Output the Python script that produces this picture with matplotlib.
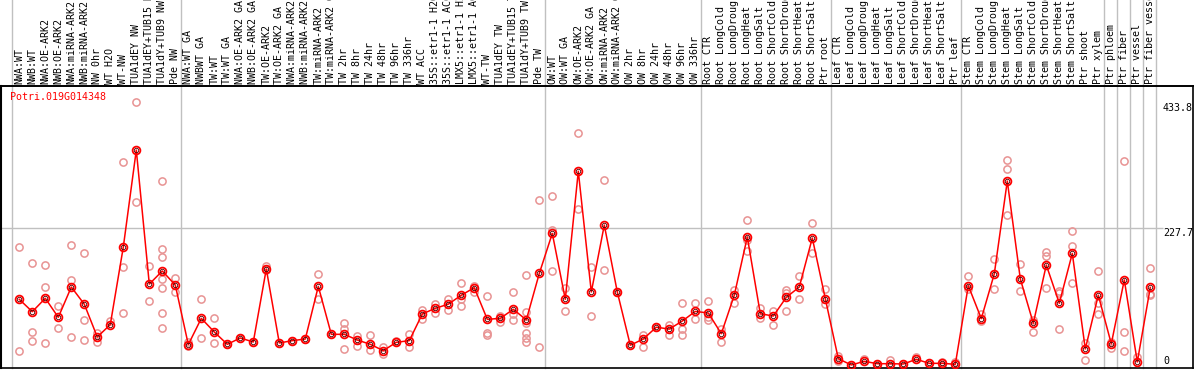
import matplotlib
matplotlib.use("Agg")
import matplotlib.pyplot as plt
import matplotlib.transforms as mtransforms

gene = "Potri.019G014348"

samples = [
    "NWA:WT", "NWB:WT", "NWA:OE-ARK2", "NWB:OE-ARK2", "NWA:miRNA-ARK2",
    "NWB:miRNA-ARK2", "NW 0hr", "WT H2O", "WT-NW", "TUA1dEY NW",
    "TUA1dEY+TUB15 NW", "TUA1dY+TUB9 NW", "Pde NW", "NWA:WT GA", "NWBWT GA",
    "TW:WT", "TW:WT GA", "NWA:OE-ARK2 GA", "NWB:OE-ARK2 GA", "TW:OE-ARK2",
    "TW:OE-ARK2 GA", "NWA:miRNA-ARK2 GA", "NWB:miRNA-ARK2 GA", "TW:miRNA-ARK2",
    "TW:miRNA-ARK2 GA", "TW 2hr", "TW 8hr", "TW 24hr", "TW 48hr", "TW 96hr",
    "TW 336hr", "WT ACC", "35S::etr1-1 H2O", "35S::etr1-1 ACC",
    "LMX5::etr1-1 H2O", "LMX5::etr1-1 ACC", "WT-TW", "TUA1dEY TW",
    "TUA1dEY+TUB15 TW", "TUA1dY+TUB9 TW", "Pde TW", "OW:WT", "OW:WT GA",
    "OW:OE-ARK2", "OW:OE-ARK2 GA", "OW:miRNA-ARK2", "OW:miRNA-ARK2 GA",
    "OW 2hr", "OW 8hr", "OW 24hr", "OW 48hr", "OW 96hr", "OW 336hr",
    "Root CTR", "Root LongCold", "Root LongDrought", "Root LongHeat",
    "Root LongSalt", "Root ShortCold", "Root ShortDrought", "Root ShortHeat",
    "Root ShortSalt", "Ptr root", "Leaf CTR", "Leaf LongCold",
    "Leaf LongDrought", "Leaf LongHeat", "Leaf LongSalt", "Leaf ShortCold",
    "Leaf ShortDrought", "Leaf ShortHeat", "Leaf ShortSalt", "Ptr leaf",
    "Stem CTR", "Stem LongCold", "Stem LongDrought", "Stem LongHeat",
    "Stem LongSalt", "Stem ShortCold", "Stem ShortDrought", "Stem ShortHeat",
    "Stem ShortSalt", "Ptr shoot", "Ptr xylem", "Ptr phloem", "Ptr fiber",
    "Ptr vessel", "Ptr fiber vessel",
]

means = [
    110.2, 89.9, 111.9, 80.7, 130.4, 102.2, 48.4, 68.8, 195.9, 355.1,
    135.2, 156.7, 133.6, 35.9, 79.0, 56.6, 36.4, 46.8, 40.2, 160.0,
    38.6, 42.4, 45.1, 131.5, 52.8, 52.8, 43.5, 36.4, 26.0, 39.7,
    42.4, 86.2, 95.5, 102.2, 117.0, 129.3, 77.4, 79.0, 93.9, 76.4,
    152.7, 218.4, 110.2, 320.4, 122.2, 232.1, 122.2, 34.9, 45.1, 64.5,
    61.4, 74.6, 90.4, 87.8, 53.8, 117.0, 212.5, 86.6, 82.8, 113.5,
    130.4, 210.8, 111.4, 12.8, 2.5, 8.5, 4.6, 4.6, 4.1, 11.8,
    5.2, 5.2, 3.6, 132.6, 78.5, 152.0, 304.3, 143.8, 70.9, 166.5,
    103.7, 185.6, 28.7, 117.0, 37.2, 142.1, 7.4, 129.8,
]

replicates = [
    [195.9, 25.4], [169.8, 56.1, 41.8], [166.5, 130.4, 38.0], [99.0, 63.4],
    [199.3, 142.6, 48.4], [186.2, 76.4, 43.5], [54.4, 40.7], [74.6],
    [335.5, 163.2, 87.8], [433.8, 269.9], [164.9, 107.3],
    [304.3, 192.7, 180.1, 143.8, 129.0, 87.8, 63.4], [145.4, 122.5],
    [39.7, 33.4], [111.4, 46.2], [79.0, 38.0], [36.4], [46.8], [40.2],
    [165.0, 158.0], [38.6], [42.4], [45.1], [152.0, 111.4], [52.8],
    [71.2, 61.4, 28.7], [50.0, 34.3], [51.4, 27.6], [31.2, 19.7], [41.3],
    [53.8, 31.2], [92.8, 78.5], [103.2, 87.8], [111.4, 92.2],
    [136.3, 111.4, 99.0], [132.6, 122.5], [115.5, 55.6, 51.7], [83.2, 72.3],
    [123.0, 85.5, 76.4], [150.1, 89.9, 70.7, 54.4, 46.2, 39.7], [272.7, 31.2],
    [279.3, 223.8, 156.1], [128.5, 91.1], [382.6, 258.9], [163.2, 82.2],
    [305.2, 158.4], [122.2], [34.9], [51.7, 31.2], [64.5], [68.8, 52.4],
    [104.0, 61.7, 51.7], [104.0, 77.4], [107.3, 81.9, 76.4], [61.4, 40.2],
    [125.6, 104.0], [239.8, 207.6, 188.9], [95.5, 80.1], [91.5, 67.6],
    [125.6, 120.0, 91.5], [149.2, 111.4], [234.9, 185.6], [127.5, 102.2],
    [17.7, 9.6], [2.5], [13.0], [4.6], [11.0], [4.1], [15.0], [5.2],
    [2.0, 8.0], [8.0], [148.1, 127.5], [86.6, 74.0], [175.6, 127.5],
    [338.3, 324.6, 247.9], [167.6, 123.1], [76.4, 56.6],
    [187.4, 181.9, 129.0], [124.3, 120.0, 62.2], [221.5, 196.9, 136.3],
    [38.0, 11.0], [157.3, 104.0, 86.0], [29.7, 40.7], [336.8, 56.6, 26.2],
    [16.0], [161.5, 117.8, 119.0],
]

# groups end after these samples (vertical separators)
group_ends = [-1, 12, 40, 52, 62, 72, 83, 84, 85, 86, 87]
ytick_vals = [433.8, 227.7, 0]
ytick_text = ["433.8", "227.7", "0"]

W, H = 1194, 370
fig = plt.figure(figsize=(W / 100, H / 100), dpi=100)
# plot box in pixels: x 1..1193, y 86..368 (from top)
ax = fig.add_axes([1 / W, 2 / H, 1192 / W, 282 / H])
ax.set_xlim((1 - 19.3) / 13, (1193 - 19.3) / 13)
ax.set_ylim(-2.46, 460.2)
ax.set_xticks([])
ax.set_yticks([])
for s in ax.spines.values():
    s.set_color("black")
    s.set_linewidth(1.2)
ax.spines["left"].set_linewidth(1.5)

mono = "DejaVu Sans Mono"
fs = 7.2
xs = list(range(len(samples)))
top_ax = 368 / 282  # full figure height in axes units

for g in group_ends:
    ax.axvline(g + 0.41, ymin=0, ymax=top_ax, color="#c0c0c0", lw=1.0,
               clip_on=False, zorder=1)

grid_end = (1163 - 19.3) / 13
ax.hlines(227.7, ax.get_xlim()[0], grid_end, color="#c0c0c0", lw=1.0,
          zorder=1)
ax.axhline(460.2, xmin=-0.01, xmax=1.0, color="black", lw=1.2, clip_on=False)

rx, ry = [], []
for i, reps in enumerate(replicates):
    for v in reps:
        rx.append(i)
        ry.append(v)
ax.plot(rx, ry, "o", ms=5.2, mfc="none", mec="#e89393", mew=1.1,
        linestyle="none", zorder=2)
ax.plot(xs, means, "-", color="#ff0000", lw=1.1, zorder=3)
ax.plot(xs, means, "o", ms=5.6, mfc="none", mec="#ff0000", mew=1.3,
        linestyle="none", zorder=4)
ax.plot(xs, means, "o", ms=3.2, mfc="none", mec="#500000", mew=0.6,
        linestyle="none", zorder=5)

ax.text((10 - 19.3) / 13, 450.3, gene, color="red", family=mono,
        fontsize=fs, ha="left", va="top")

for v, t in zip(ytick_vals, ytick_text):
    if v == 0:
        ax.text(grid_end, 1.5, t, family=mono, fontsize=fs, ha="left",
                va="bottom")
    else:
        ax.text(grid_end, v - 1.0, t, family=mono, fontsize=fs, ha="left",
                va="top")

trans = mtransforms.blended_transform_factory(ax.transData, ax.transAxes)
for i, name in enumerate(samples):
    ax.text(i, 1 + 2.5 / 282, name, rotation=90, family=mono, fontsize=fs,
            ha="center", va="bottom", transform=trans, clip_on=False)

fig.savefig("out.png", dpi=100)
